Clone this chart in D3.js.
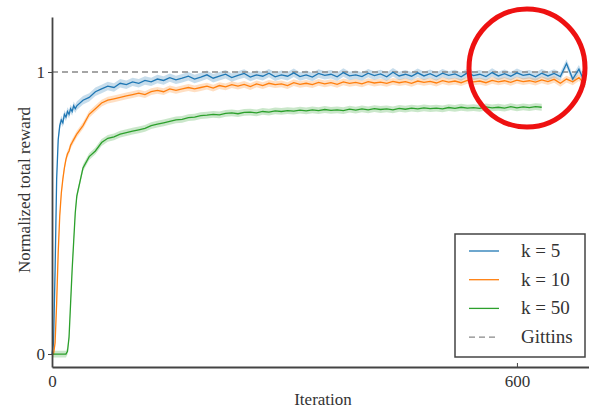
<!DOCTYPE html>
<html>
<head>
<meta charset="utf-8">
<script src="https://cdn.jsdelivr.net/npm/d3@7"></script>
<style>
  body { margin: 0; background: #fff; }
  svg { display: block; }
  .axis path, .axis line { stroke: #444; }
</style>
</head>
<body>
<div id="chart"></div>
<script>
// iterations at which the curves were read
var iters = [0,2,4,6,8,10,12,14,16,18,20,22,24,26,28,30,
  32,40,48,56,64,72,80,88,96,104,
  112,120,128,136,144,152,160,168,176,184,
  192,200,208,216,224,232,240,248,256,264,
  272,280,288,296,304,312,320,328,336,344,
  352,360,368,376,384,392,400,408,416,424,
  432,440,448,456,464,472,480,488,496,504,
  512,520,528,536,544,552,560,568,576,584,
  592,600,608,616,624,632,640,648,656,664,
  672,680,688];

var k5 = [0.00,0.04,0.30,0.62,0.76,0.81,0.83,0.82,0.85,0.84,0.86,0.85,0.87,0.86,0.88,0.87,
  0.88,0.90,0.91,0.93,0.94,0.95,0.945,0.96,0.955,0.965,
  0.96,0.97,0.965,0.975,0.97,0.98,0.972,0.978,0.985,0.975,
  0.982,0.99,0.978,0.985,0.992,0.98,0.988,0.995,0.982,0.99,
  0.985,0.996,0.983,0.99,0.985,0.997,0.984,0.99,0.982,0.995,
  0.988,0.992,0.983,0.998,0.986,0.99,0.984,0.996,0.987,0.993,
  0.983,0.999,0.986,0.992,0.985,0.997,0.986,0.994,0.984,0.996,
  0.988,0.993,0.983,0.997,0.987,0.992,0.984,0.998,0.986,0.994,
  0.985,0.997,0.988,0.992,0.983,0.996,0.986,0.995,0.984,1.03,
  0.975,1.01,0.96];

var k10 = [0.00,0.00,0.04,0.18,0.36,0.49,0.57,0.62,0.66,0.69,0.71,0.72,0.74,0.75,0.76,0.77,
  0.78,0.81,0.85,0.87,0.89,0.90,0.905,0.91,0.915,0.92,
  0.925,0.92,0.93,0.935,0.93,0.94,0.935,0.94,0.945,0.94,
  0.945,0.95,0.943,0.952,0.947,0.955,0.95,0.956,0.948,0.958,
  0.952,0.96,0.955,0.958,0.952,0.962,0.956,0.96,0.955,0.963,
  0.958,0.962,0.956,0.965,0.96,0.963,0.958,0.966,0.961,0.964,
  0.96,0.967,0.962,0.966,0.96,0.968,0.963,0.967,0.961,0.969,
  0.964,0.968,0.962,0.97,0.965,0.968,0.962,0.97,0.965,0.969,
  0.963,0.971,0.966,0.969,0.964,0.972,0.966,0.974,0.96,0.975,
  0.965,0.98,0.955];

var k50 = [0.00,0.00,0.00,0.00,0.00,0.00,0.00,0.00,0.00,0.00,0.01,0.06,0.18,0.30,0.40,0.50,
  0.56,0.66,0.70,0.72,0.75,0.765,0.77,0.78,0.785,0.79,
  0.795,0.80,0.81,0.815,0.82,0.825,0.83,0.832,0.838,0.84,
  0.845,0.847,0.85,0.848,0.853,0.855,0.852,0.857,0.858,0.855,
  0.86,0.858,0.862,0.86,0.863,0.861,0.865,0.862,0.866,0.863,
  0.867,0.864,0.866,0.863,0.868,0.865,0.869,0.866,0.87,0.867,
  0.869,0.866,0.871,0.868,0.872,0.869,0.873,0.87,0.872,0.869,
  0.874,0.871,0.875,0.872,0.874,0.871,0.876,0.873,0.875,0.872,
  0.877,0.873,0.876,0.874,0.877,0.875];

var seriesNames = ['k = 5', 'k = 10', 'k = 50'];
var seriesValues = [k5, k10, k50];
var bandHalf = [0.015, 0.012, 0.012];
var colors = ['#1f77b4', '#ff7f0e', '#2ca02c'];
var gittins = 1;
var xTicks = [0, 600];
var yTicks = [0, 1];

var serif = '"Liberation Serif", "Times New Roman", serif';
var W = 589, H = 411;
var svg = d3.select('#chart').append('svg')
  .attr('width', W)
  .attr('height', H);

var x = d3.scaleLinear().domain([0, 693]).range([52, 589]);
var y = d3.scaleLinear().domain([-0.046, 1.195]).range([367, 17]);

// confidence bands
var area = d3.area()
  .x(function(d) { return x(d[0]); })
  .y0(function(d) { return y(d[1] - d[2]); })
  .y1(function(d) { return y(d[1] + d[2]); });

var line = d3.line()
  .x(function(d) { return x(d[0]); })
  .y(function(d) { return y(d[1]); });

seriesValues.forEach(function(vals, i) {
  var pts = vals.map(function(v, j) { return [iters[j], v, bandHalf[i]]; });
  svg.append('path')
    .datum(pts)
    .attr('d', area)
    .attr('fill', colors[i])
    .attr('opacity', 0.25);
});

// gittins reference line
svg.append('line')
  .attr('x1', x(0)).attr('x2', x(688))
  .attr('y1', y(gittins)).attr('y2', y(gittins))
  .attr('stroke', '#888')
  .attr('stroke-width', 1.3)
  .attr('stroke-dasharray', '6,4');

seriesValues.forEach(function(vals, i) {
  var pts = vals.map(function(v, j) { return [iters[j], v]; });
  svg.append('path')
    .datum(pts)
    .attr('d', line)
    .attr('fill', 'none')
    .attr('stroke', colors[i])
    .attr('stroke-width', 1.3);
});

// axes
var xAxis = d3.axisBottom(x).tickValues(xTicks).tickFormat(d3.format('d'))
  .tickSize(-4).tickSizeOuter(0).tickPadding(8);
var yAxis = d3.axisLeft(y).tickValues(yTicks).tickFormat(d3.format('d'))
  .tickSize(4).tickSizeOuter(0).tickPadding(3);

function styleAxis(g) {
  g.select('.domain').attr('stroke-width', 1.8);
  g.selectAll('text')
    .attr('font-family', serif)
    .attr('font-size', 17)
    .attr('fill', '#333');
}

svg.append('g').attr('class', 'axis')
  .attr('transform', 'translate(0,367)')
  .call(xAxis)
  .call(styleAxis);

svg.append('g').attr('class', 'axis')
  .attr('transform', 'translate(52,0)')
  .call(yAxis)
  .call(styleAxis);

svg.append('text')
  .attr('transform', 'translate(30,190) rotate(-90)')
  .attr('text-anchor', 'middle')
  .attr('font-family', serif)
  .attr('font-size', 17)
  .attr('fill', '#333')
  .text('Normalized total reward');

svg.append('text')
  .attr('x', 323).attr('y', 405)
  .attr('text-anchor', 'middle')
  .attr('font-family', serif)
  .attr('font-size', 17)
  .attr('fill', '#333')
  .text('Iteration');

// legend
var legend = svg.append('g');
legend.append('rect')
  .attr('x', 455).attr('y', 234)
  .attr('width', 130).attr('height', 123)
  .attr('fill', '#fff')
  .attr('stroke', '#444')
  .attr('stroke-width', 1.5);

var legendItems = seriesNames.concat(['Gittins']);
var legendColors = colors.concat(['#888']);
legendItems.forEach(function(name, i) {
  var yy = 251 + i * 28.7;
  legend.append('line')
    .attr('x1', 469).attr('x2', 499)
    .attr('y1', yy).attr('y2', yy)
    .attr('stroke', legendColors[i])
    .attr('stroke-width', 1.3)
    .attr('stroke-dasharray', i === 3 ? '6,4' : null);
  legend.append('text')
    .attr('x', 521).attr('y', yy + 6)
    .attr('font-family', serif)
    .attr('font-size', 19)
    .attr('fill', '#333')
    .text(name);
});

// red highlight circle drawn on the figure
svg.append('ellipse')
  .attr('cx', 527).attr('cy', 68)
  .attr('rx', 58).attr('ry', 59)
  .attr('fill', 'none')
  .attr('stroke', '#ee1111')
  .attr('stroke-width', 5);
</script>
</body>
</html>
